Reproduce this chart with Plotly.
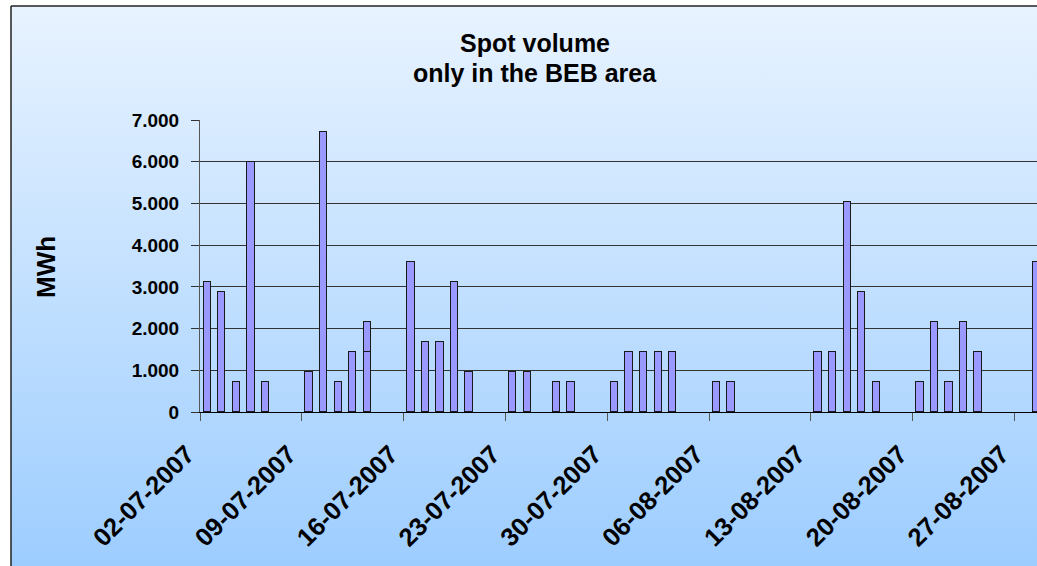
import base64
import plotly.graph_objects as go

# ---- data ----
dates = [
    "2007-07-02", "2007-07-03", "2007-07-04", "2007-07-05", "2007-07-06",
    "2007-07-09", "2007-07-10", "2007-07-11", "2007-07-12", "2007-07-13",
    "2007-07-16", "2007-07-17", "2007-07-18", "2007-07-19", "2007-07-20",
    "2007-07-23", "2007-07-24", "2007-07-26", "2007-07-27",
    "2007-07-30", "2007-07-31", "2007-08-01", "2007-08-02", "2007-08-03",
    "2007-08-06", "2007-08-07",
    "2007-08-13", "2007-08-14", "2007-08-15", "2007-08-16", "2007-08-17",
    "2007-08-20", "2007-08-21", "2007-08-22", "2007-08-23", "2007-08-24",
    "2007-08-28",
]
volume_mwh = [
    3120, 2880, 720, 6000, 720,
    960, 6720, 720, 1440, 1440,
    3600, 1680, 1680, 3120, 960,
    960, 960, 720, 720,
    720, 1440, 1440, 1440, 1440,
    720, 720,
    1440, 1440, 5040, 2880, 720,
    720, 2160, 720, 2160, 1440,
    3600,
]
extra_dates = ["2007-07-13"]
extra_mwh = [720]

title_lines = ["Spot volume", "only in the BEB area"]
y_title = "MWh"

W, H = 1037, 566
DAY_MS = 86400000
FONT = "Liberation Sans, Arial, sans-serif"

bar_style = dict(color="#9999FF", line=dict(color="#1a1a1a", width=1))

fig = go.Figure()
for xs, ys in ((dates, volume_mwh), (extra_dates, extra_mwh)):
    fig.add_trace(go.Bar(
        x=xs, y=ys, marker=bar_style, width=DAY_MS * 0.5,
        xperiod=DAY_MS, xperiodalignment="middle", showlegend=False,
    ))

svg = ("<svg xmlns='http://www.w3.org/2000/svg' width='1026' height='560' preserveAspectRatio='none'>"
       "<defs><linearGradient id='g' x1='0' y1='0' x2='0' y2='1'>"
       "<stop offset='0' stop-color='#E8F3FF'/><stop offset='1' stop-color='#9DCDFF'/>"
       "</linearGradient></defs><rect width='100%' height='100%' fill='url(#g)'/></svg>")
src = "data:image/svg+xml;base64," + base64.b64encode(svg.encode()).decode()


def px(x):
    return x / W


def py(y):
    return 1 - y / H


fig.update_layout(
    width=W, height=H, autosize=False,
    margin=dict(l=0, r=0, t=0, b=0, pad=0, autoexpand=False),
    paper_bgcolor="white", plot_bgcolor="white",
    barmode="stack", bargap=0,
    separators=",.",
    font=dict(family=FONT, color="black"),
    images=[dict(source=src, xref="paper", yref="paper", x=px(11), y=py(6),
                 sizex=1 - px(11), sizey=py(6),
                 xanchor="left", yanchor="top", sizing="stretch", layer="below")],
    shapes=[
        dict(type="line", xref="paper", yref="paper", x0=px(11), x1=px(11),
             y0=0, y1=py(6), line=dict(color="#222", width=1.5), layer="below"),
        dict(type="line", xref="paper", yref="paper", x0=px(11), x1=1,
             y0=py(6), y1=py(6), line=dict(color="#222", width=1.5), layer="below"),
    ],
    xaxis=dict(
        domain=[px(200), 1], automargin=False,
        type="date",
        range=["2007-07-02", "2007-08-28 13:10"],
        tick0="2007-07-02", dtick=7 * DAY_MS, tickformat="%d-%m-%Y",
        tickangle=-45, ticks="outside", ticklen=8, tickcolor="#555",
        ticklabelshift=-13, ticklabelstandoff=8,
        tickfont=dict(size=25.5, family=FONT, weight="bold"),
        showline=True, linecolor="black", linewidth=1,
        showgrid=False, zeroline=False,
    ),
    yaxis=dict(
        domain=[py(412), py(120)], automargin=False,
        range=[0, 7000], dtick=1000, tickformat=",.0f",
        ticks="outside", ticklen=8, tickcolor="#333",
        ticklabelstandoff=8,
        tickfont=dict(size=19, family=FONT, weight="bold"),
        showline=True, linecolor="#555", linewidth=1,
        showgrid=True, gridcolor="#333", gridwidth=1, zeroline=False,
    ),
    annotations=[
        dict(text=title_lines[0], xref="paper", yref="paper", x=px(535), y=py(43),
             showarrow=False, xanchor="center", yanchor="middle",
             font=dict(size=25, weight="bold")),
        dict(text=title_lines[1], xref="paper", yref="paper", x=px(535), y=py(73),
             showarrow=False, xanchor="center", yanchor="middle",
             font=dict(size=25, weight="bold")),
        dict(text=y_title, xref="paper", yref="paper", x=px(46), y=py(267),
             showarrow=False, textangle=-90, xanchor="center", yanchor="middle",
             font=dict(size=26, weight="bold")),
    ],
)

fig.write_html("out.html", config={"displayModeBar": False},
               post_script="document.body.style.margin='0';document.body.style.overflow='hidden';")
